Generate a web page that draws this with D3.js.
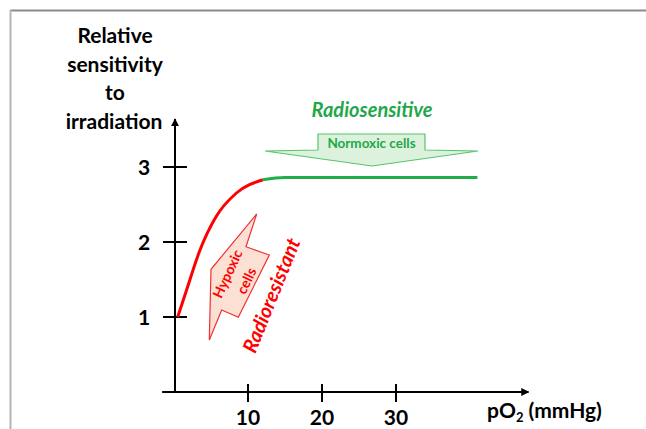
<!DOCTYPE html>
<html><head><meta charset="utf-8">
<script src="https://cdn.jsdelivr.net/npm/d3@7"></script>
<style>body{margin:0;background:#fff}svg{display:block}</style>
</head><body>
<svg id="c" width="646" height="429"></svg>
<script>
// data
const redX = [0.5, 1.7, 3.5, 5.7, 8.4, 12];
const redY = [1.0, 1.36, 1.89, 2.34, 2.65, 2.83];
const greenX = [12, 15, 41];
const greenY = [2.83, 2.86, 2.86];
const yTicks = [1, 2, 3];
const xTicks = [10, 20, 30];
const yTitle = ["Relative", "sensitivity", "to", "irradiation"];

const svg = d3.select("#c");
const x = d3.scaleLinear().domain([0, 10]).range([174, 248]);
const y = d3.scaleLinear().domain([0, 3]).range([392, 167]);
const F = "Lato, 'Open Sans', sans-serif";

// frame
svg.append("line").attr("x1",10).attr("y1",10.5).attr("x2",646).attr("y2",10.5).attr("stroke","#8a8a8a").attr("stroke-width",2);
svg.append("line").attr("x1",10.5).attr("y1",10).attr("x2",10.5).attr("y2",429).attr("stroke","#b5b5b5").attr("stroke-width",2);

const defs = svg.append("defs");
defs.append("marker").attr("id","ah").attr("viewBox","0 0 10 10").attr("refX",9).attr("refY",5)
  .attr("markerWidth",4).attr("markerHeight",4).attr("orient","auto")
  .append("path").attr("d","M0,0L10,5L0,10Z").attr("fill","#000");

// axes
svg.append("line").attr("x1",x(0)+1).attr("y1",y(0)).attr("x2",x(0)+1).attr("y2",y(3.64))
  .attr("stroke","#000").attr("stroke-width",2).attr("marker-end","url(#ah)");
svg.append("line").attr("x1",x(-1.6)).attr("y1",y(0)).attr("x2",x(47.9)).attr("y2",y(0))
  .attr("stroke","#000").attr("stroke-width",2).attr("marker-end","url(#ah)");

svg.selectAll(".yt").data(yTicks).enter().append("line")
  .attr("x1",163).attr("x2",187).attr("y1",d=>y(d)).attr("y2",d=>y(d))
  .attr("stroke","#000").attr("stroke-width",2);
svg.selectAll(".ytl").data(yTicks).enter().append("text")
  .attr("x",144).attr("y",d=>y(d)+7.5).attr("text-anchor","middle")
  .attr("font-family",F).attr("font-weight","bold").attr("font-size",21).text(d=>d);

svg.selectAll(".xt").data(xTicks).enter().append("line")
  .attr("x1",d=>x(d)).attr("x2",d=>x(d)).attr("y1",y(0)-8).attr("y2",y(0)+10)
  .attr("stroke","#000").attr("stroke-width",2);
svg.selectAll(".xtl").data(xTicks).enter().append("text")
  .attr("x",d=>x(d)).attr("y",425).attr("text-anchor","middle")
  .attr("font-family",F).attr("font-weight","bold").attr("font-size",21).text(d=>d);

// axis titles
const yt = svg.append("text").attr("font-family",F).attr("font-weight","bold").attr("font-size",21).attr("text-anchor","middle");
yTitle.forEach((t,i)=>yt.append("tspan").attr("x",i===3?114:115).attr("y",43+i*28.5).text(t));

const xl = svg.append("text").attr("x",487).attr("y",418).attr("font-family",F).attr("font-weight","bold").attr("font-size",21);
xl.append("tspan").text("pO");
xl.append("tspan").attr("font-size",13).attr("dy",4).text("2");
xl.append("tspan").attr("dy",-4).text(" (mmHg)");

// curves
const line = d3.line().x(d=>x(d[0])).y(d=>y(d[1])).curve(d3.curveMonotoneX);
svg.append("path").attr("d",line(redX.map((v,i)=>[v,redY[i]]))).attr("fill","none").attr("stroke","#ff0000").attr("stroke-width",3);
svg.append("path").attr("d",line(greenX.map((v,i)=>[v,greenY[i]]))).attr("fill","none").attr("stroke","#1fae4a").attr("stroke-width",3);

// green callout arrow
svg.append("polygon").attr("points","265,151 318,150 318,134 425,134 425,150 478,151 372,166")
  .attr("fill","#dcf2dc").attr("stroke","#55c46e").attr("stroke-width",1.2);
svg.append("text").attr("x",371.5).attr("y",147.5).attr("text-anchor","middle").attr("font-family",F)
  .attr("font-weight","bold").attr("font-size",13.5).attr("fill","#1fa84a").text("Normoxic cells");
svg.append("text").attr("x",372).attr("y",117).attr("text-anchor","middle").attr("font-family",F)
  .attr("font-weight","bold").attr("font-style","italic").attr("font-size",20).attr("fill","#1fa84a").text("Radiosensitive");

// red callout arrow
svg.append("polygon").attr("points","256.7,214 246,246.7 269.3,255 238.3,317.3 221.7,310 209.3,340 211,269.3")
  .attr("fill","#fbe0d3").attr("stroke","#f03030").attr("stroke-width",1.2);
svg.append("text").attr("transform","translate(232,276) rotate(-65)").attr("text-anchor","middle").attr("font-family",F)
  .attr("font-weight","bold").attr("font-size",14).attr("fill","#ff0000").text("Hypoxic");
svg.append("text").attr("transform","translate(251,283) rotate(-65)").attr("text-anchor","middle").attr("font-family",F)
  .attr("font-weight","bold").attr("font-size",14).attr("fill","#ff0000").text("cells");
svg.append("text").attr("transform","translate(278,298) rotate(-68)").attr("text-anchor","middle").attr("font-family",F)
  .attr("font-weight","bold").attr("font-style","italic").attr("font-size",20).attr("fill","#ff0000").text("Radioresistant");
</script>
</body></html>
